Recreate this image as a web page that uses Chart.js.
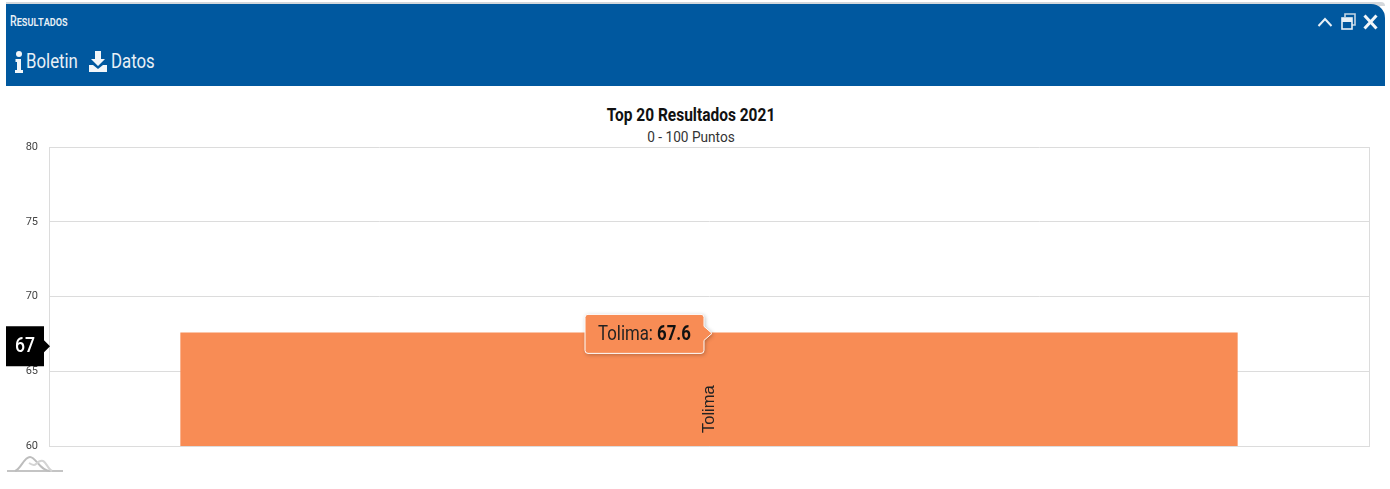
<!DOCTYPE html>
<html lang="es">
<head>
<meta charset="UTF-8" />
<title>Top 20 Resultados 2021</title>
<script src="https://cdn.jsdelivr.net/npm/chart.js"></script>
<style>
  html, body { margin: 0; padding: 0; background: #fff; overflow: hidden; }
  body { width: 1390px; height: 489px; position: relative; font-family: Roboto, sans-serif; }
  #edge { position: absolute; left: 6px; top: 2px; width: 1379px; height: 4px; background: #d4d8dc; border-top-right-radius: 14px; }
  #panel { position: absolute; left: 6px; top: 4px; width: 1379px; height: 82px; background: #00589f; border-top-right-radius: 14px; color: #e8f0f6; }
  .cond { position: absolute; white-space: nowrap; transform-origin: left top; }
  #panelTitle { left: 4px; top: 9px; font-size: 14px; font-weight: 500; font-variant: small-caps; transform: scaleX(.76); }
  #boletin { left: 20px; top: 45px; font-size: 20px; transform: scaleX(.84); }
  #datos { left: 105px; top: 45px; font-size: 20px; transform: scaleX(.84); }
  #panel svg, #spark { position: absolute; }
  #title { position: absolute; left: 0; width: 1382px; top: 103px; text-align: center; font-size: 19px; font-weight: 700; color: #111; transform: scaleX(.815); }
  #subtitle { position: absolute; left: 0; width: 1382px; top: 128px; text-align: center; font-size: 15px; color: #333; transform: scaleX(.91); }
  #wrap { position: absolute; left: 0; top: 86px; width: 1390px; height: 403px; }
</style>
</head>
<body>
  <div id="edge"></div>
  <div id="panel">
    <div class="cond" id="panelTitle">Resultados</div>
    <svg style="left:9px;top:47px" width="8" height="22" viewBox="0 0 8 22"><circle cx="4" cy="3" r="3" fill="#f2f6f9"/><path d="M0.5 8h5.5v11h2v3H0v-3h2v-8H0.5z" fill="#f2f6f9"/></svg>
    <div class="cond" id="boletin">Boletin</div>
    <svg style="left:83px;top:47px" width="18" height="22" viewBox="0 0 18 22"><path d="M6 0h6v8h4l-7 7-7-7h4z" fill="#f2f6f9"/><path d="M0 14h4l5 4 5-4h4v7H0z" fill="#f2f6f9"/></svg>
    <div class="cond" id="datos">Datos</div>
    <svg style="left:1311px;top:12px" width="16" height="12" viewBox="0 0 16 12"><path d="M1.5 10L8 3l6.500 7" fill="none" stroke="#e8f0f6" stroke-width="2"/></svg>
    <svg style="left:1335px;top:9px" width="16" height="18" viewBox="0 0 16 18"><path d="M4 4V1h10v11h-3" fill="none" stroke="#c5d6e4" stroke-width="1.600"/><rect x="1" y="5" width="10" height="11" fill="#00589f" stroke="#e8f0f6" stroke-width="1.600"/><rect x="1" y="5" width="10" height="4" fill="#e8f0f6"/></svg>
    <svg style="left:1357px;top:10px" width="15" height="16" viewBox="0 0 15 16"><path d="M1.500 1.500l12 13M13.500 1.500l-12 13" fill="none" stroke="#f2f6f9" stroke-width="3"/></svg>
  </div>
  <div id="title">Top 20 Resultados 2021</div>
  <div id="subtitle">0 - 100 Puntos</div>
  <div id="wrap"><canvas id="chart" width="1390" height="403"></canvas></div>
  <svg id="spark" style="left:7px;top:455px" width="57" height="18" viewBox="0 0 57 18">
    <path d="M0 16h56" stroke="#c4c4c4" stroke-width="2" fill="none"/>
    <path d="M8 16C14 14 17 2 23 2s10 14 20 14" stroke="#bdbdbd" stroke-width="2" fill="none"/>
    <path d="M22 8c3 2 5 3 7 1s4-4 7-3 5 8 9 10" stroke="#d4d4d4" stroke-width="2" fill="none"/>
  </svg>

  <script>
    const categories = ['Tolima'];
    const values = [67.6];
    const yMin = 60;
    const yMax = 80;
    const yStep = 5;
    const crosshairValue = 66.68;
    const crosshairLabel = '67';

    const barColor = '#f88c55';

    // rotated label, tooltip and y crosshair label, anchored on the bar and the y scale
    const overlays = {
      id: 'overlays',
      afterDatasetsDraw(chart) {
        const ctx = chart.ctx;
        const bar = chart.getDatasetMeta(0).data[0];
        const y = chart.scales.y;

        ctx.save();
        ctx.translate(bar.x, y.bottom - 13);
        ctx.rotate(-Math.PI / 2);
        ctx.font = '16.5px "Liberation Sans", sans-serif';
        ctx.fillStyle = '#222';
        ctx.textAlign = 'left';
        ctx.textBaseline = 'middle';
        ctx.fillText(categories[0], 0, 0);
        ctx.restore();

        // tooltip
        const tipX = bar.x + 3;
        const tipY = bar.y + 1;
        const x0 = tipX - 127, x1 = tipX - 8, y0 = tipY - 19, y1 = tipY + 20;
        ctx.save();
        ctx.shadowColor = 'rgba(0,0,0,0.3)';
        ctx.shadowBlur = 4;
        ctx.shadowOffsetX = 1;
        ctx.shadowOffsetY = 1;
        ctx.beginPath();
        ctx.moveTo(x0 + 3, y0);
        ctx.lineTo(x1 - 3, y0);
        ctx.quadraticCurveTo(x1, y0, x1, y0 + 3);
        ctx.lineTo(x1, tipY - 7);
        ctx.lineTo(tipX, tipY);
        ctx.lineTo(x1, tipY + 7);
        ctx.lineTo(x1, y1 - 3);
        ctx.quadraticCurveTo(x1, y1, x1 - 3, y1);
        ctx.lineTo(x0 + 3, y1);
        ctx.quadraticCurveTo(x0, y1, x0, y1 - 3);
        ctx.lineTo(x0, y0 + 3);
        ctx.quadraticCurveTo(x0, y0, x0 + 3, y0);
        ctx.closePath();
        ctx.fillStyle = barColor;
        ctx.fill();
        ctx.shadowColor = 'transparent';
        ctx.strokeStyle = '#fff';
        ctx.lineWidth = 1;
        ctx.stroke();
        ctx.restore();

        const sx = 0.84;
        ctx.save();
        ctx.translate(x0 + 13, tipY + 2);
        ctx.scale(sx, 1);
        ctx.textBaseline = 'middle';
        ctx.fillStyle = '#222';
        ctx.font = '20px Roboto, sans-serif';
        const name = categories[0] + ': ';
        ctx.fillText(name, 0, 0);
        const w = ctx.measureText(name).width;
        ctx.font = 'bold 20px Roboto, sans-serif';
        ctx.fillStyle = '#111';
        ctx.fillText(String(values[0]), w, 0);
        ctx.restore();

        // crosshair label on the y axis
        const cy = y.getPixelForValue(crosshairValue);
        ctx.save();
        ctx.beginPath();
        ctx.moveTo(6, cy - 20);
        ctx.lineTo(44, cy - 20);
        ctx.lineTo(44, cy - 6);
        ctx.lineTo(50, cy);
        ctx.lineTo(44, cy + 6);
        ctx.lineTo(44, cy + 20);
        ctx.lineTo(6, cy + 20);
        ctx.closePath();
        ctx.fillStyle = '#000';
        ctx.fill();
        ctx.translate(25, cy);
        ctx.scale(sx, 1);
        ctx.font = '500 21px Roboto, sans-serif';
        ctx.fillStyle = '#fff';
        ctx.textAlign = 'center';
        ctx.textBaseline = 'middle';
        ctx.fillText(crosshairLabel, 0, 1);
        ctx.restore();
      }
    };

    new Chart(document.getElementById('chart').getContext('2d'), {
      type: 'bar',
      data: {
        labels: categories,
        datasets: [{
          data: values,
          backgroundColor: barColor,
          barPercentage: 0.801,
          categoryPercentage: 1
        }]
      },
      options: {
        responsive: false,
        animation: false,
        layout: { padding: { left: 0, right: 21, top: 61, bottom: 43 } },
        plugins: { legend: { display: false }, tooltip: { enabled: false } },
        scales: {
          x: {
            offset: true,
            ticks: { display: false },
            grid: { color: '#dcdcdc', drawTicks: false, offset: true },
            border: { color: '#dcdcdc' }
          },
          y: {
            min: yMin,
            max: yMax,
            afterFit(scale) { scale.width = 49; },
            ticks: {
              stepSize: yStep,
              padding: 11,
              color: '#444',
              font: { family: 'Roboto', size: 11 }
            },
            grid: { color: '#dcdcdc', drawTicks: false },
            border: { color: '#dcdcdc' }
          }
        }
      },
      plugins: [overlays]
    });
  </script>
</body>
</html>
